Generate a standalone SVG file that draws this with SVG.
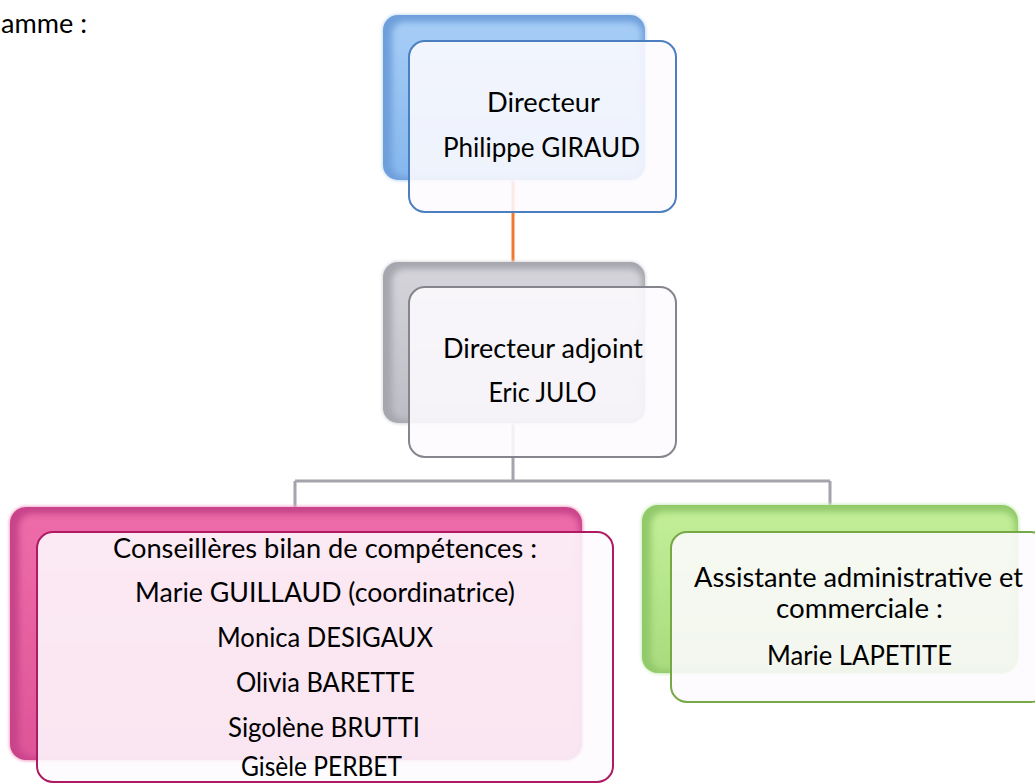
<svg xmlns="http://www.w3.org/2000/svg" width="1035" height="783" viewBox="0 0 1035 783">
<style>
  text { font-family: Lato, "Open Sans", "Liberation Sans", sans-serif; font-size: 26px; fill: #000; text-anchor: middle; }
  .front { stroke-width: 2; }
  .conn { fill: none; stroke-width: 3; stroke-linecap: butt; }
</style>
<defs>
  <filter id="soft" x="-10%" y="-10%" width="120%" height="120%">
    <feGaussianBlur stdDeviation="3"/>
  </filter>
  <filter id="glow" x="-10%" y="-10%" width="120%" height="120%">
    <feGaussianBlur stdDeviation="1.5"/>
  </filter>
  <linearGradient id="gBlue" x1="0" y1="0" x2="0" y2="1">
    <stop offset="0" stop-color="#a6cdf6"/>
    <stop offset="1" stop-color="#86b7ee"/>
  </linearGradient>
  <linearGradient id="gGray" x1="0" y1="0" x2="0" y2="1">
    <stop offset="0" stop-color="#d4d4da"/>
    <stop offset="1" stop-color="#bdbdc5"/>
  </linearGradient>
  <linearGradient id="gPink" x1="0" y1="0" x2="0" y2="1">
    <stop offset="0" stop-color="#ee6ca9"/>
    <stop offset="1" stop-color="#de5598"/>
  </linearGradient>
  <linearGradient id="gGreen" x1="0" y1="0" x2="0" y2="1">
    <stop offset="0" stop-color="#c2ee98"/>
    <stop offset="1" stop-color="#a9dc7e"/>
  </linearGradient>
</defs>
<rect width="1035" height="783" fill="#ffffff"/>

<text x="1" y="33" style="text-anchor:start" textLength="86" lengthAdjust="spacingAndGlyphs">amme :</text>

<g id="connectors">
  <path class="conn" d="M513,180 V262" stroke="#f07a2c"/>
  <path class="conn" d="M513,423 V481 M295,481 H830 M295,481 V507 M830,481 V505" stroke="#a4a4ac"/>
</g>

<g id="node-directeur">
  <rect x="382" y="14" width="264" height="167" rx="16" fill="#c9dff7" filter="url(#glow)"/>
  <rect x="383" y="15" width="262" height="165" rx="15" fill="#6f9fdb"/>
  <rect x="392" y="22" width="250" height="155" rx="12" fill="url(#gBlue)" filter="url(#soft)"/>
  <rect class="front" x="409" y="41" width="267" height="171" rx="16" fill="#fdfbfe" fill-opacity="0.88" stroke="#4b7fbf"/>
  <text x="543.5" y="112" textLength="113" lengthAdjust="spacingAndGlyphs">Directeur</text>
  <text x="541.5" y="157" textLength="197" lengthAdjust="spacingAndGlyphs">Philippe GIRAUD</text>
</g>

<g id="node-adjoint">
  <rect x="382" y="261" width="264" height="163" rx="16" fill="#dcdce2" filter="url(#glow)"/>
  <rect x="383" y="262" width="262" height="161" rx="15" fill="#a6a6ae"/>
  <rect x="392" y="269" width="250" height="151" rx="12" fill="url(#gGray)" filter="url(#soft)"/>
  <rect class="front" x="409" y="287" width="267" height="170" rx="16" fill="#fdfbfe" fill-opacity="0.88" stroke="#85858d"/>
  <text x="543" y="358" textLength="200" lengthAdjust="spacingAndGlyphs">Directeur adjoint</text>
  <text x="542.5" y="402" textLength="108" lengthAdjust="spacingAndGlyphs">Eric JULO</text>
</g>

<g id="node-conseilleres">
  <rect x="9" y="506" width="574" height="255" rx="17" fill="#f2a9cb" filter="url(#glow)"/>
  <rect x="10" y="507" width="572" height="253" rx="16" fill="#c8448a"/>
  <rect x="19" y="514" width="560" height="243" rx="13" fill="url(#gPink)" filter="url(#soft)"/>
  <rect class="front" x="37" y="532" width="576" height="250" rx="16" fill="#fdfbfe" fill-opacity="0.88" stroke="#b01a63"/>
  <text x="325" y="558" textLength="424" lengthAdjust="spacingAndGlyphs">Conseillères bilan de compétences :</text>
  <text x="325" y="602" textLength="380" lengthAdjust="spacingAndGlyphs">Marie GUILLAUD (coordinatrice)</text>
  <text x="325" y="647" textLength="216" lengthAdjust="spacingAndGlyphs">Monica DESIGAUX</text>
  <text x="325.5" y="692" textLength="179" lengthAdjust="spacingAndGlyphs">Olivia BARETTE</text>
  <text x="324" y="737" textLength="192" lengthAdjust="spacingAndGlyphs">Sigolène BRUTTI</text>
  <text x="321.5" y="776" textLength="161" lengthAdjust="spacingAndGlyphs">Gisèle PERBET</text>
</g>

<g id="node-assistante">
  <rect x="641" y="504" width="378" height="170" rx="17" fill="#cdeec0" filter="url(#glow)"/>
  <rect x="642" y="505" width="376" height="168" rx="16" fill="#92c96a"/>
  <rect x="651" y="512" width="364" height="158" rx="13" fill="url(#gGreen)" filter="url(#soft)"/>
  <rect class="front" x="671" y="532" width="376" height="170" rx="16" fill="#fdfbfe" fill-opacity="0.88" stroke="#76a846"/>
  <text x="858.5" y="587" textLength="329" lengthAdjust="spacingAndGlyphs">Assistante administrative et</text>
  <text x="859.5" y="618" textLength="167" lengthAdjust="spacingAndGlyphs">commerciale :</text>
  <text x="859.5" y="665" textLength="185" lengthAdjust="spacingAndGlyphs">Marie LAPETITE</text>
</g>
</svg>
